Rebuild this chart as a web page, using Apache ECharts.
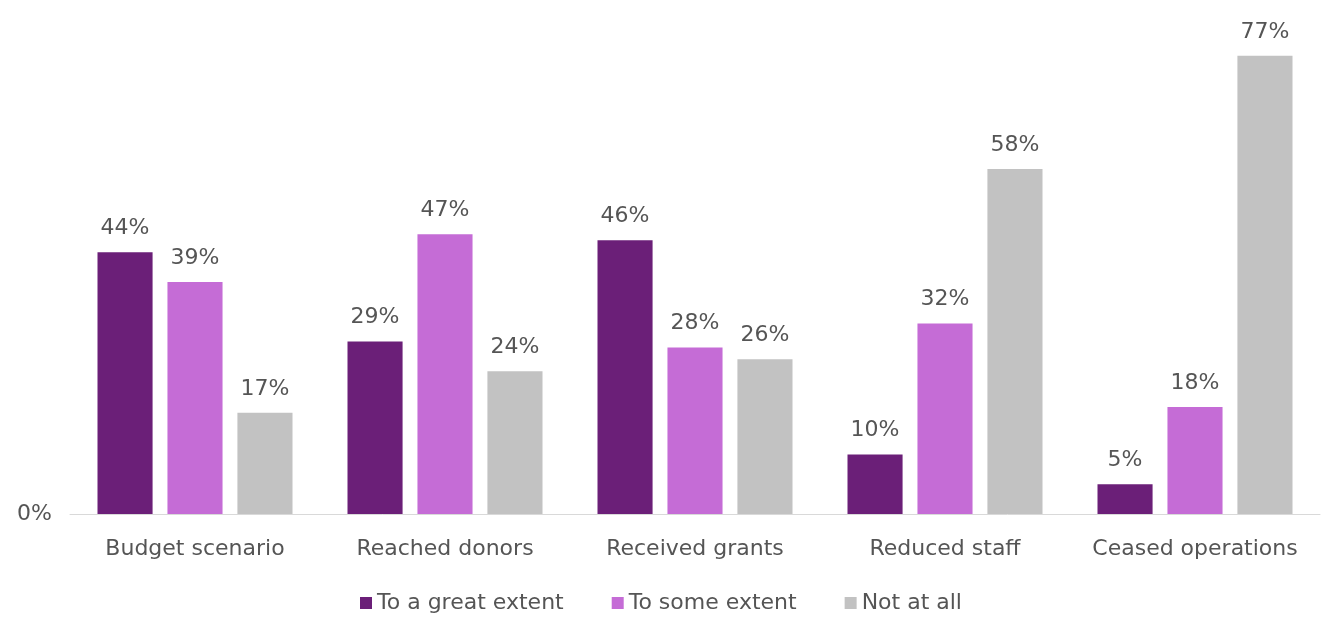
<!DOCTYPE html>
<html>
<head>
<meta charset="utf-8">
<style>
  html, body { margin: 0; padding: 0; background: #ffffff; }
  #chart { width: 1322px; height: 622px; }
</style>
<script src="https://cdn.jsdelivr.net/npm/echarts@6/dist/echarts.min.js"></script>
</head>
<body>
<div id="chart"></div>
<script>
// Survey responses per action, in percent
const categories = ['Budget scenario', 'Reached donors', 'Received grants', 'Reduced staff', 'Ceased operations'];
const greatExtent = [44, 29, 46, 10, 5];
const someExtent = [39, 47, 28, 32, 18];
const notAtAll = [17, 24, 26, 58, 77];
const seriesNames = ['To a great extent', 'To some extent', 'Not at all'];
const seriesColors = ['#6b1f78', '#c56cd6', '#c2c2c2'];

const fontFamily = '"DejaVu Sans", "Noto Sans", sans-serif';
const textColor = '#555555';
const fontSize = 22;

const chart = echarts.init(document.getElementById('chart'), null, { renderer: 'canvas' });

function barSeries(name, data, color) {
  return {
    name: name,
    type: 'bar',
    data: data,
    barGap: '27%',
    barCategoryGap: '22%',
    itemStyle: { color: color },
    label: {
      show: true,
      position: 'top',
      distance: 13,
      formatter: '{c}%',
      color: textColor,
      fontFamily: fontFamily,
      fontSize: fontSize
    }
  };
}

chart.setOption({
  animation: false,
  backgroundColor: '#ffffff',
  grid: { left: 70, right: 2, top: 38, bottom: 108, containLabel: false },
  legend: {
    bottom: 3,
    left: 'center',
    itemWidth: 12,
    itemHeight: 12,
    itemGap: 48,
    icon: 'rect',
    textStyle: { color: textColor, fontFamily: fontFamily, fontSize: fontSize },
    data: seriesNames
  },
  xAxis: {
    type: 'category',
    data: categories,
    axisLine: { show: true, lineStyle: { color: '#d9d9d9', width: 1 } },
    axisTick: { show: false },
    axisLabel: { interval: 0, color: textColor, fontFamily: fontFamily, fontSize: fontSize, margin: 24 }
  },
  yAxis: {
    type: 'value',
    min: 0,
    max: 80,
    interval: 80,
    splitLine: { show: false },
    axisLine: { show: false },
    axisTick: { show: false },
    axisLabel: {
      color: textColor,
      fontFamily: fontFamily,
      fontSize: fontSize,
      margin: 18,
      formatter: function (v) { return v === 0 ? '0%' : ''; }
    }
  },
  series: [
    barSeries(seriesNames[0], greatExtent, seriesColors[0]),
    barSeries(seriesNames[1], someExtent, seriesColors[1]),
    barSeries(seriesNames[2], notAtAll, seriesColors[2])
  ]
});
</script>
</body>
</html>
